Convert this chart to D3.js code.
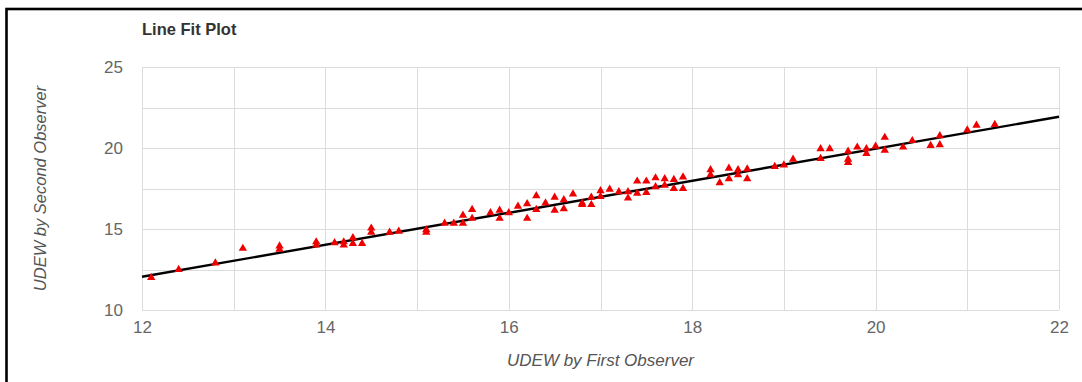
<!DOCTYPE html>
<html>
<head>
<meta charset="utf-8">
<script src="https://cdn.jsdelivr.net/npm/d3@7"></script>
<style>
  html, body { margin: 0; padding: 0; background: #fff; }
  svg { display: block; font-family: "Liberation Sans", Arial, sans-serif; }
</style>
</head>
<body>
<svg id="chart"></svg>
<script>
// observations: first observer (x) and second observer (y)
const firstObs = [
  12.1, 12.4, 12.8, 13.1, 13.5, 13.5, 13.9, 13.9, 14.1, 14.2, 14.2, 14.3, 14.3, 14.4,
  14.5, 14.5, 14.7, 14.8, 15.1, 15.1, 15.3, 15.4, 15.5, 15.5, 15.6, 15.6, 15.8, 15.9,
  15.9, 16.0, 16.1, 16.2, 16.2, 16.3, 16.3, 16.4, 16.5, 16.5, 16.6, 16.6, 16.7, 16.8,
  16.8, 16.9, 16.9, 17.0, 17.0, 17.1, 17.2, 17.3, 17.3, 17.4, 17.4, 17.5, 17.5, 17.6,
  17.6, 17.7, 17.7, 17.8, 17.8, 17.9, 17.9, 18.2, 18.2, 18.3, 18.4, 18.4, 18.5, 18.5,
  18.6, 18.6, 18.9, 19.0, 19.1, 19.4, 19.4, 19.5, 19.7, 19.7, 19.7, 19.8, 19.9, 19.9,
  20.0, 20.1, 20.1, 20.3, 20.4, 20.6, 20.7, 20.7, 21.0, 21.1, 21.3
];
const secondObs = [
  12.0, 12.5, 12.9, 13.8, 13.95, 13.75, 14.2, 14.0, 14.15, 14.2, 14.0, 14.45, 14.1, 14.1,
  15.05, 14.8, 14.8, 14.85, 14.95, 14.8, 15.35, 15.35, 15.85, 15.35, 16.2, 15.65, 16.0, 16.15,
  15.65, 16.0, 16.4, 16.55, 15.65, 17.05, 16.2, 16.6, 16.95, 16.15, 16.8, 16.25, 17.15, 16.6,
  16.5, 16.95, 16.5, 17.35, 17.0, 17.45, 17.3, 17.3, 16.9, 17.95, 17.2, 17.95, 17.25, 18.15,
  17.6, 18.1, 17.7, 18.05, 17.5, 18.2, 17.5, 18.65, 18.35, 17.85, 18.75, 18.1, 18.65, 18.35,
  18.7, 18.1, 18.85, 18.95, 19.3, 19.95, 19.35, 19.95, 19.8, 19.3, 19.1, 20.05, 19.95, 19.65,
  20.1, 20.65, 19.85, 20.05, 20.45, 20.15, 20.75, 20.2, 21.1, 21.4, 21.45
];

// fitted line end points
const fitX = [12, 22];
const fitY = [12.05, 21.93];

const xTicks = [12, 14, 16, 18, 20, 22];
const xGrid = [12, 13, 14, 15, 16, 17, 18, 19, 20, 21, 22];
const yTicks = [10, 15, 20, 25];
const yGrid = [10, 12.5, 15, 17.5, 20, 22.5, 25];

const width = 1082, height = 382;
const margin = { top: 67, right: 23, bottom: 72, left: 142 };

const svg = d3.select("#chart")
  .attr("width", width)
  .attr("height", height);

// outer frame (cut off at right and bottom)
svg.append("rect")
  .attr("x", 6.5).attr("y", 9)
  .attr("width", 1200).attr("height", 600)
  .attr("fill", "none")
  .attr("stroke", "#000")
  .attr("stroke-width", 2.6);

const xScale = d3.scaleLinear()
  .domain([12, 22])
  .range([margin.left, width - margin.right]);

const yScale = d3.scaleLinear()
  .domain([10, 25])
  .range([height - margin.bottom, margin.top]);

// grid
svg.append("g")
  .selectAll("line")
  .data(xGrid)
  .join("line")
  .attr("x1", d => Math.round(xScale(d)) + 0.5)
  .attr("x2", d => Math.round(xScale(d)) + 0.5)
  .attr("y1", yScale(25))
  .attr("y2", yScale(10))
  .attr("stroke", "#dcdcdc")
  .attr("stroke-width", 1);

svg.append("g")
  .selectAll("line")
  .data(yGrid)
  .join("line")
  .attr("x1", xScale(12))
  .attr("x2", xScale(22))
  .attr("y1", d => Math.round(yScale(d)) + 0.5)
  .attr("y2", d => Math.round(yScale(d)) + 0.5)
  .attr("stroke", "#dcdcdc")
  .attr("stroke-width", 1);

// axes (labels only, grid already drawn)
const xAxis = d3.axisBottom(xScale).tickValues(xTicks).tickSize(0).tickPadding(11).tickFormat(d3.format("d"));
const yAxis = d3.axisLeft(yScale).tickValues(yTicks).tickSize(0).tickPadding(19).tickFormat(d3.format("d"));

const xAxisGroup = svg.append("g")
  .attr("class", "x-axis")
  .attr("transform", `translate(0,${height - margin.bottom})`)
  .call(xAxis);

const yAxisGroup = svg.append("g")
  .attr("class", "y-axis")
  .attr("transform", `translate(${margin.left},0)`)
  .call(yAxis);

[xAxisGroup, yAxisGroup].forEach(g => {
  g.select(".domain").remove();
  g.selectAll("text")
    .attr("fill", "#666")
    .style("font-size", "17px")
    .style("font-family", "\"Liberation Sans\", Arial, sans-serif");
});

// fit line
const line = d3.line()
  .x(d => xScale(d[0]))
  .y(d => yScale(d[1]));

svg.append("path")
  .datum(d3.zip(fitX, fitY))
  .attr("d", line)
  .attr("fill", "none")
  .attr("stroke", "#000")
  .attr("stroke-width", 2.4);

// points
const tri = d3.symbol().type(d3.symbolTriangle).size(30);
svg.append("g")
  .selectAll("path")
  .data(d3.zip(firstObs, secondObs))
  .join("path")
  .attr("d", tri)
  .attr("transform", d => `translate(${xScale(d[0])},${yScale(d[1])})`)
  .attr("fill", "#ee0000");

// titles
svg.append("text")
  .attr("x", margin.left)
  .attr("y", 35)
  .attr("font-size", 16.5)
  .attr("font-weight", "bold")
  .attr("fill", "#333")
  .text("Line Fit Plot");

svg.append("text")
  .attr("x", (xScale(12) + xScale(22)) / 2)
  .attr("y", 366)
  .attr("text-anchor", "middle")
  .attr("font-size", 17)
  .attr("font-style", "italic")
  .attr("fill", "#555")
  .text("UDEW by First Observer");

svg.append("text")
  .attr("transform", `translate(46,${(yScale(10) + yScale(25)) / 2}) rotate(-90)`)
  .attr("text-anchor", "middle")
  .attr("font-size", 16.5)
  .attr("font-style", "italic")
  .attr("fill", "#555")
  .text("UDEW by Second Observer");
</script>
</body>
</html>
